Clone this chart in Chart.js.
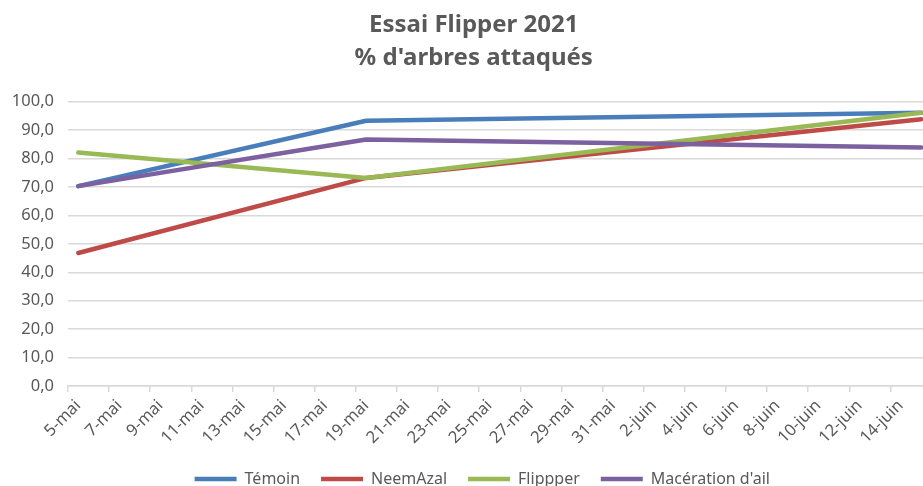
<!DOCTYPE html>
<html>
<head>
<meta charset="utf-8">
<script src="https://cdn.jsdelivr.net/npm/chart.js@4/dist/chart.umd.min.js"></script>
<style>
  html, body { margin: 0; padding: 0; background: #fff; overflow: hidden; }
  #wrap { width: 948px; height: 486px; }
</style>
</head>
<body>
<div id="wrap"><canvas id="c" width="948" height="486"></canvas></div>
<script>
// ---- data ----
const titleLines = ['Essai Flipper 2021', "% d'arbres attaqués"];
const seriesNames = ['Témoin', 'NeemAzal', 'Flippper', "Macération d'ail"];
const sampleDates = ['5-mai', '19-mai', '15-juin'];
const sampleDays = [0, 14, 41];            // days since 5 May 2021
const temoin     = [70.3, 93.3, 96.1];
const neemAzal   = [46.8, 73.2, 93.8];
const flippper   = [82.1, 73.2, 96.1];
const maceration = [70.3, 86.7, 83.9];
const xTickLabels = ['5-mai','7-mai','9-mai','11-mai','13-mai','15-mai','17-mai','19-mai','21-mai','23-mai',
  '25-mai','27-mai','29-mai','31-mai','2-juin','4-juin','6-juin','8-juin','10-juin','12-juin','14-juin'];
const axisDays = 42;                        // 5 May .. 15 June, one slot per day
const seriesColors = ['#4A7EBB', '#BE4B48', '#98B954', '#7D60A0'];

const seriesValues = [temoin, neemAzal, flippper, maceration];
const datasets = seriesNames.map((name, i) => ({
  label: name,
  data: sampleDays.map((d, j) => ({ x: d, y: seriesValues[i][j] })),
  borderColor: seriesColors[i],
  backgroundColor: seriesColors[i],
  borderWidth: 4.5,
  borderCapStyle: 'round',
  borderJoinStyle: 'round',
  pointRadius: 0,
  pointHoverRadius: 0,
  tension: 0,
  order: seriesNames.length - i
}));

const grey = '#595959';
const gridGrey = '#D9D9D9';

// small horizontal nudge of title / legend boxes (Excel centres them slightly right)
const nudge = {
  id: 'nudge',
  afterLayout(chart) {
    if (chart.legend) { chart.legend.left += 11.5; chart.legend.right += 11.5; }
    if (chart.titleBlock) { chart.titleBlock.left += 3; chart.titleBlock.right += 3; }
  }
};

new Chart(document.getElementById('c'), {
  type: 'line',
  data: { datasets },
  plugins: [nudge],
  options: {
    responsive: false,
    animation: false,
    layout: { padding: { left: 10, right: 16.5, top: 0, bottom: -11 } },
    plugins: {
      tooltip: { enabled: false },
      title: {
        display: true,
        text: titleLines,
        color: grey,
        font: { family: "'Noto Sans', sans-serif", size: 24, weight: 'bold', lineHeight: 1.39 },
        padding: { top: 8, bottom: 27 }
      },
      legend: {
        position: 'bottom',
        labels: {
          usePointStyle: true,
          pointStyle: 'line',
          pointStyleWidth: 42,
          color: grey,
          font: { family: "'Noto Sans', sans-serif", size: 16 },
          padding: 21,
          sort: (a, b) => a.datasetIndex - b.datasetIndex
        }
      }
    },
    scales: {
      x: {
        type: 'linear',
        min: -0.5,
        max: axisDays - 0.5,
        afterBuildTicks: (scale) => {
          const t = [];
          for (let d = 0; d < axisDays; d++) t.push({ value: d });
          scale.ticks = t;
        },
        afterFit: (scale) => { scale.height = 64; },
        ticks: {
          autoSkip: false,
          minRotation: 45,
          maxRotation: 45,
          color: grey,
          padding: 4,
          font: { family: "'Noto Sans', sans-serif", size: 16.5 },
          callback: (v, idx) => (idx % 2 === 0 ? xTickLabels[idx / 2] : '')
        },
        grid: {
          offset: true,
          drawOnChartArea: false,
          drawTicks: true,
          tickLength: 6,
          tickColor: (ctx) => (ctx.index % 2 === 0 ? gridGrey : 'rgba(0,0,0,0)'),
          lineWidth: 1.5
        },
        border: { display: true, color: gridGrey, width: 1.5 }
      },
      y: {
        min: 0,
        max: 100,
        afterFit: (scale) => { scale.width = 58; },
        ticks: {
          stepSize: 10,
          color: grey,
          padding: 14,
          font: { family: "'Noto Sans', sans-serif", size: 16.5 },
          callback: (v) => v.toFixed(1).replace('.', ',')
        },
        grid: { color: gridGrey, lineWidth: 1.5, drawTicks: false },
        border: { display: false }
      }
    }
  }
});
</script>
</body>
</html>
